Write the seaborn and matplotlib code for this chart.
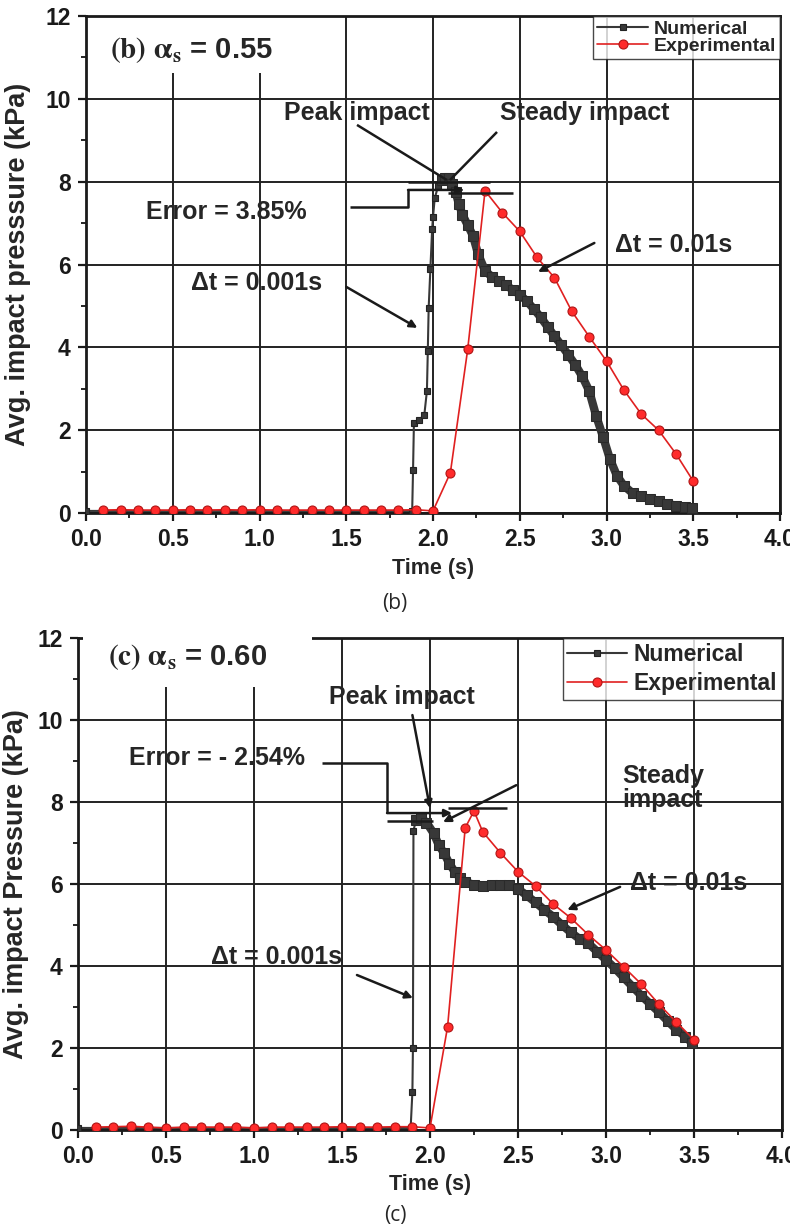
import numpy as np
import pandas as pd
import seaborn as sns
import matplotlib.pyplot as plt
from matplotlib.patches import Rectangle
from matplotlib.ticker import MultipleLocator

# ------------------------------
# Data
# ------------------------------
# (b) alpha_s = 0.55
num_b_t = [0.0, 0.1, 0.2, 0.3, 0.4, 0.5, 0.6, 0.7, 0.8, 0.9, 1.0, 1.1, 1.2, 1.3, 1.4,
           1.5, 1.6, 1.7, 1.8, 1.88, 1.885, 1.89, 1.92, 1.95, 1.965, 1.97, 1.975, 1.985,
           1.995, 2.0, 2.01, 2.03, 2.05, 2.07, 2.09, 2.11, 2.13, 2.15, 2.17, 2.2, 2.23,
           2.26, 2.3, 2.34, 2.38, 2.42, 2.46, 2.5, 2.54, 2.58, 2.62, 2.66, 2.7, 2.74,
           2.78, 2.82, 2.86, 2.9, 2.94, 2.98, 3.02, 3.06, 3.1, 3.15, 3.2, 3.25, 3.3,
           3.35, 3.4, 3.45, 3.49]
num_b_p = [0.05, 0.05, 0.05, 0.05, 0.05, 0.05, 0.05, 0.05, 0.05, 0.05, 0.05, 0.05, 0.05,
           0.05, 0.05, 0.05, 0.05, 0.05, 0.05, 0.05, 1.04, 2.17, 2.25, 2.37, 2.95, 3.9,
           4.95, 5.9, 6.85, 7.15, 7.6, 7.9, 8.05, 8.1, 8.08, 7.95, 7.75, 7.45, 7.2, 6.95,
           6.7, 6.25, 5.85, 5.7, 5.6, 5.5, 5.39, 5.27, 5.12, 4.93, 4.73, 4.5, 4.27, 4.05,
           3.82, 3.58, 3.3, 2.95, 2.35, 1.84, 1.3, 0.9, 0.66, 0.48, 0.4, 0.33, 0.28, 0.22,
           0.18, 0.15, 0.12]
exp_b_t = [0.1, 0.2, 0.3, 0.4, 0.5, 0.6, 0.7, 0.8, 0.9, 1.0, 1.1, 1.2, 1.3, 1.4, 1.5,
           1.6, 1.7, 1.8, 1.9, 2.0, 2.1, 2.2, 2.3, 2.4, 2.5, 2.6, 2.7, 2.8, 2.9, 3.0,
           3.1, 3.2, 3.3, 3.4, 3.5]
exp_b_p = [0.07, 0.08, 0.07, 0.07, 0.07, 0.08, 0.07, 0.08, 0.07, 0.08, 0.07, 0.07, 0.07,
           0.07, 0.07, 0.07, 0.07, 0.07, 0.08, 0.05, 0.97, 3.95, 7.78, 7.25, 6.8, 6.17,
           5.68, 4.87, 4.26, 3.67, 2.97, 2.39, 2.0, 1.43, 0.77]

# (c) alpha_s = 0.60
num_c_t = [0.0, 0.1, 0.2, 0.3, 0.4, 0.5, 0.6, 0.7, 0.8, 0.9, 1.0, 1.1, 1.2, 1.3, 1.4,
           1.5, 1.6, 1.7, 1.8, 1.89, 1.9, 1.903, 1.906, 1.92, 1.95, 1.98, 2.02, 2.05,
           2.08, 2.11, 2.14, 2.17, 2.2, 2.25, 2.3, 2.35, 2.4, 2.45, 2.5, 2.55, 2.6, 2.65,
           2.7, 2.75, 2.8, 2.85, 2.9, 2.95, 3.0, 3.05, 3.1, 3.15, 3.2, 3.25, 3.3, 3.35,
           3.4, 3.45, 3.49]
num_c_p = [0.05, 0.05, 0.05, 0.05, 0.05, 0.05, 0.05, 0.05, 0.05, 0.05, 0.05, 0.05, 0.05,
           0.05, 0.05, 0.05, 0.05, 0.05, 0.05, 0.05, 0.93, 2.0, 7.3, 7.55, 7.62, 7.5,
           7.24, 6.95, 6.75, 6.5, 6.3, 6.15, 6.05, 5.98, 5.96, 5.97, 5.98, 5.97, 5.88,
           5.72, 5.55, 5.37, 5.2, 5.0, 4.82, 4.66, 4.55, 4.35, 4.15, 3.95, 3.72, 3.5,
           3.28, 3.08, 2.88, 2.66, 2.45, 2.28, 2.12]
exp_c_t = [0.1, 0.2, 0.3, 0.4, 0.5, 0.6, 0.7, 0.8, 0.9, 1.0, 1.1, 1.2, 1.3, 1.4, 1.5,
           1.6, 1.7, 1.8, 1.9, 2.0, 2.1, 2.2, 2.25, 2.3, 2.4, 2.5, 2.6, 2.7, 2.8, 2.9,
           3.0, 3.1, 3.2, 3.3, 3.4, 3.5]
exp_c_p = [0.07, 0.08, 0.09, 0.07, 0.05, 0.07, 0.07, 0.07, 0.07, 0.05, 0.07, 0.07, 0.07,
           0.07, 0.08, 0.07, 0.07, 0.08, 0.08, 0.05, 2.52, 7.37, 7.78, 7.27, 6.76, 6.3,
           5.95, 5.51, 5.17, 4.76, 4.39, 3.98, 3.56, 3.07, 2.63, 2.2]

NUM_COLOR = '#383838'
EXP_COLOR = '#e02020'
ANNO_FS = 18

sns.set_theme(style="white")
plt.rcParams['font.family'] = ['Liberation Sans', 'DejaVu Sans']
plt.rcParams['font.weight'] = 'bold'
plt.rcParams['mathtext.fontset'] = 'stix'


def style_axes(ax, ylabel, ylab_x):
    ax.set_xlim(0, 4)
    ax.set_ylim(0, 12)
    ax.xaxis.set_major_locator(MultipleLocator(0.5))
    ax.xaxis.set_minor_locator(MultipleLocator(0.25))
    ax.yaxis.set_major_locator(MultipleLocator(2))
    ax.yaxis.set_minor_locator(MultipleLocator(1))
    ax.set_axisbelow(True)
    ax.grid(True, which='major', color='#222222', lw=1.4)
    ax.tick_params(which='major', direction='out', length=6, width=1.6,
                   labelsize=16.5, colors='k', pad=5, bottom=True, left=True)
    ax.tick_params(which='minor', direction='out', length=3.5, width=1.4,
                   bottom=True, left=True)
    for s in ax.spines.values():
        s.set_linewidth(2)
        s.set_color('k')
    ax.set_xlabel('Time (s)', fontsize=15.5, fontweight='bold', va='center')
    ax.xaxis.set_label_coords(0.5, -0.111)
    ax.set_ylabel(ylabel, fontsize=19.5, fontweight='bold', va='center')
    ax.yaxis.set_label_coords(ylab_x, 0.5)


def draw_series(ax, nt, npv, et, ep, band_from):
    sns.lineplot(x=nt, y=npv, ax=ax, color=NUM_COLOR, lw=1.5, marker='s', markersize=5,
                 markeredgecolor='#222222', markeredgewidth=0.8, label='Numerical',
                 sort=False, estimator=None, zorder=3)
    k = next(i for i, v in enumerate(nt) if v >= band_from)
    sns.lineplot(x=nt[k:], y=npv[k:], ax=ax, color=NUM_COLOR, lw=6, marker='s',
                 markersize=6.5, markeredgecolor='#2a2a2a', legend=False, sort=False,
                 estimator=None, zorder=3)
    sns.lineplot(x=et, y=ep, ax=ax, color=EXP_COLOR, lw=1.2, marker='o', markersize=6.5,
                 markerfacecolor='#ff2b2b', markeredgecolor='#b01515', markeredgewidth=0.8,
                 label='Experimental', sort=False, estimator=None, zorder=4)


def line(ax, pts, head=False, lw=1.8):
    xs = [p[0] for p in pts]
    ys = [p[1] for p in pts]
    if head:
        ax.plot(xs[:-1], ys[:-1], color='k', lw=lw, zorder=5, solid_capstyle='butt')
        ax.annotate('', xy=pts[-1], xytext=pts[-2],
                    arrowprops=dict(arrowstyle='-|>', color='k', lw=lw,
                                    mutation_scale=11, shrinkA=0, shrinkB=0), zorder=5)
    else:
        ax.plot(xs, ys, color='k', lw=lw, zorder=5, solid_capstyle='butt')


def legend(ax, fs, spacing, hl):
    leg = ax.legend(loc='upper right', frameon=True, fancybox=False,
                    borderaxespad=0, borderpad=0.2, labelspacing=spacing,
                    handlelength=hl, handletextpad=0.3, prop={'weight': 'bold', 'size': fs})
    leg.get_frame().set_edgecolor('k')
    leg.get_frame().set_linewidth(1.0)
    leg.set_zorder(6)


fig = plt.figure(figsize=(7.9, 12.29), dpi=100)
ax1 = fig.add_axes([86 / 790, 1 - 513 / 1229, 694 / 790, 497 / 1229])
ax2 = fig.add_axes([78 / 790, 1 - 1130 / 1229, 704 / 790, 492 / 1229])

# ---------------- panel (b) ----------------
style_axes(ax1, 'Avg. impact presssure (kPa)', -0.098)
draw_series(ax1, num_b_t, num_b_p, exp_b_t, exp_b_p, 2.05)
legend(ax1, 14, 0.0, 2.6)
ax1.add_patch(Rectangle((0.01, 10.63), 1.40, 1.34, facecolor='white', edgecolor='none',
                        zorder=1))
ax1.text(0.14, 11.18, r'$\mathbf{(b)\ \alpha_s}$ = 0.55', fontsize=21, va='center',
         ha='left', zorder=6)
ax1.text(1.56, 9.66, 'Peak impact', fontsize=ANNO_FS, ha='center', va='center', zorder=6)
ax1.text(2.875, 9.66, 'Steady impact', fontsize=ANNO_FS, ha='center', va='center', zorder=6)
ax1.text(0.81, 7.27, 'Error = 3.85%', fontsize=ANNO_FS, ha='center', va='center', zorder=6)
ax1.text(0.985, 5.56, '\u0394t = 0.001s', fontsize=ANNO_FS, ha='center', va='center', zorder=6)
ax1.text(3.385, 6.47, '\u0394t = 0.01s', fontsize=ANNO_FS, ha='center', va='center', zorder=6)
line(ax1, [(1.562, 9.37), (2.08, 8.04)])
line(ax1, [(2.369, 9.20), (2.098, 8.04)])
line(ax1, [(1.52, 7.39), (1.856, 7.39), (1.856, 7.80), (2.18, 7.80)], head=True)
line(ax1, [(1.856, 8.0), (2.33, 8.0)])
line(ax1, [(2.086, 7.73), (2.46, 7.73)])
line(ax1, [(1.50, 5.46), (1.91, 4.47)], head=True)
line(ax1, [(2.93, 6.52), (2.605, 5.82)], head=True)

# ---------------- panel (c) ----------------
style_axes(ax2, 'Avg. impact Pressure (kPa)', -0.088)
draw_series(ax2, num_c_t, num_c_p, exp_c_t, exp_c_p, 1.92)
legend(ax2, 16.5, 0.3, 2.6)
ax2.add_patch(Rectangle((0.03, 10.8), 1.30, 1.3, facecolor='white', edgecolor='none',
                        zorder=2.6, clip_on=False))
ax2.text(0.17, 11.54, r'$\mathbf{(c)\ \alpha_s}$ = 0.60', fontsize=21, va='center',
         ha='left', zorder=6)
ax2.text(1.84, 10.56, 'Peak impact', fontsize=ANNO_FS, ha='center', va='center', zorder=6)
ax2.text(3.09, 8.34, 'Steady\nimpact', fontsize=ANNO_FS, ha='left', va='center',
         linespacing=1.0, zorder=6)
ax2.text(0.79, 9.07, 'Error = - 2.54%', fontsize=ANNO_FS, ha='center', va='center', zorder=6)
ax2.text(1.13, 4.22, '\u0394t = 0.001s', fontsize=ANNO_FS, ha='center', va='center', zorder=6)
ax2.text(3.47, 6.02, '\u0394t = 0.01s', fontsize=ANNO_FS, ha='center', va='center', zorder=6)
line(ax2, [(1.90, 10.12), (2.0, 7.85)], head=True)
line(ax2, [(2.49, 8.41), (2.074, 7.51)], head=True)
line(ax2, [(1.386, 8.95), (1.756, 8.95), (1.756, 7.73), (2.125, 7.73)], head=True)
line(ax2, [(1.756, 7.54), (2.017, 7.54)])
line(ax2, [(2.10, 7.85), (2.44, 7.85)])
line(ax2, [(1.585, 3.78), (1.903, 3.22)], head=True)
line(ax2, [(3.08, 5.93), (2.78, 5.37)], head=True)

# captions
fig.text(395 / 790, 1 - 603 / 1229, '(b)', fontsize=15, fontweight='normal',
         family=['Open Sans', 'DejaVu Sans'], ha='center', va='center')
fig.text(395 / 790, 1 - 1215 / 1229, '(c)', fontsize=15, fontweight='normal',
         family=['Open Sans', 'DejaVu Sans'], ha='center', va='center')

fig.savefig('out.png', dpi=100)
